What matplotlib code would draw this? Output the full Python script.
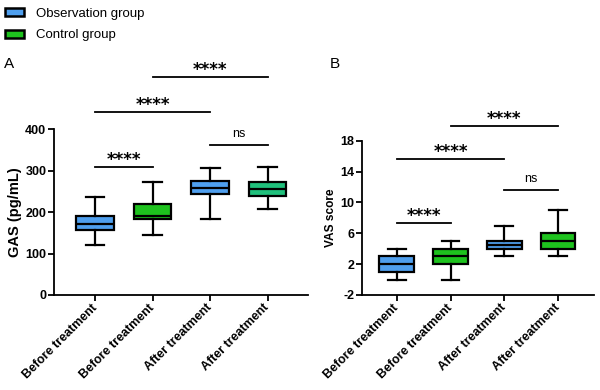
import matplotlib
matplotlib.use("Agg")
import matplotlib.pyplot as plt
from matplotlib.patches import Patch

plt.rcParams['font.family'] = ['Liberation Sans', 'DejaVu Sans']
plt.rcParams['axes.unicode_minus'] = False

labels = ["Before treatment", "Before treatment", "After treatment", "After treatment"]

# five-number summaries: whislo, q1, median, q3, whishi
gas_stats = [
    [120, 156, 172, 191, 238],
    [146, 183, 192, 220, 274],
    [184, 244, 259, 276, 306],
    [208, 240, 256, 273, 310],
]
vas_stats = [
    [0, 1, 2, 3, 4],
    [0, 2, 3, 4, 5],
    [3, 4, 4.5, 5, 7],
    [3, 4, 5, 6, 9],
]

gas_colors = ["#4f9fee", "#1ec21e", "#4f9fee", "#20c07c"]
vas_colors = ["#4f9fee", "#1ec21e", "#4f9fee", "#1ec21e"]

# significance brackets: (x1, x2, y, text)
gas_sig = [(1, 2, 310, "****"), (3, 4, 362, "ns"), (1, 3, 443, "****"), (2, 4, 526, "****")]
vas_sig = [(1, 2, 7.3, "****"), (3, 4, 11.6, "ns"), (1, 3, 15.6, "****"), (2, 4, 19.9, "****")]

fig = plt.figure(figsize=(6, 3.9), dpi=100)
axA = fig.add_axes([0.09, 0.2436, 0.423, 0.4244])
axB = fig.add_axes([0.603, 0.2436, 0.387, 0.3956])


def draw(ax, stats, colors, sig, ylim, yticks, ylabel, ylabel_size, star_off, ns_off):
    bstats = [dict(whislo=s[0], q1=s[1], med=s[2], q3=s[3], whishi=s[4], fliers=[])
              for s in stats]
    bp = ax.bxp(bstats, positions=[1, 2, 3, 4], widths=0.65, patch_artist=True,
                capwidths=0.33,
                boxprops=dict(linewidth=1.6, edgecolor="black"),
                medianprops=dict(color="black", linewidth=1.6),
                whiskerprops=dict(color="black", linewidth=1.6),
                capprops=dict(color="black", linewidth=1.6))
    for patch, c in zip(bp["boxes"], colors):
        patch.set_facecolor(c)
    ax.set_ylim(*ylim)
    ax.set_yticks(yticks)
    ax.set_xticks([1, 2, 3, 4])
    ax.set_xticklabels(labels, rotation=45, ha="right", va="center",
                       rotation_mode="anchor", fontweight="bold", fontsize=9)
    for t in ax.get_yticklabels():
        t.set_fontweight("bold")
        t.set_fontsize(9)
    ax.set_ylabel(ylabel, fontweight="bold", fontsize=ylabel_size, labelpad=2)
    for s in ["top", "right"]:
        ax.spines[s].set_visible(False)
    for s in ["left", "bottom"]:
        ax.spines[s].set_linewidth(1.3)
    ax.tick_params(axis="y", width=1.3, length=4, pad=1.5)
    ax.tick_params(axis="x", width=1.3, length=4, pad=4)
    for x1, x2, y, txt in sig:
        ax.plot([x1, x2], [y, y], color="black", linewidth=1.3, clip_on=False)
        if txt == "ns":
            ax.text((x1 + x2) / 2, y + ns_off, txt, ha="center", va="baseline",
                    fontsize=9, clip_on=False)
        else:
            ax.text((x1 + x2) / 2, y + star_off, txt, ha="center", va="baseline",
                    fontsize=12, fontweight="bold", family="DejaVu Sans", clip_on=False)


draw(axA, gas_stats, gas_colors, gas_sig, (0, 400), [0, 100, 200, 300, 400],
     "GAS (pg/mL)", 10.5, 5, 21)
axA.set_xlim(0.287, 4.7)
draw(axB, vas_stats, vas_colors, vas_sig, (-2, 18), [-2, 2, 6, 10, 14, 18],
     "VAS score", 8.6, 0.26, 1.1)
axB.set_xlim(0.348, 4.67)

fig.text(0.006, 0.825, "A", fontsize=11)
fig.text(0.549, 0.825, "B", fontsize=11)

handles = [Patch(facecolor="#4f9fee", edgecolor="black", linewidth=1.8),
           Patch(facecolor="#1ec21e", edgecolor="black", linewidth=1.8)]
fig.legend(handles, ["Observation group", "Control group"], loc="upper left",
           bbox_to_anchor=(-0.012, 1.01), frameon=False, fontsize=9.5,
           handlelength=1.5, handleheight=0.55, handletextpad=0.9, labelspacing=0.7)

fig.savefig("out.png", dpi=100)
